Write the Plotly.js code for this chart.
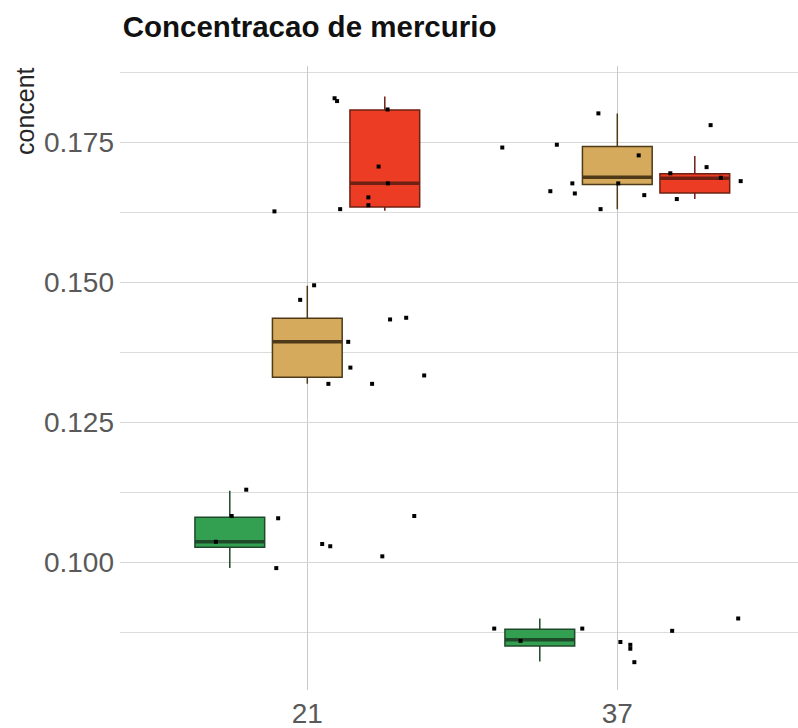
<!DOCTYPE html>
<html>
<head>
<meta charset="utf-8">
<script src="https://cdn.plot.ly/plotly-3.0.1.min.js"></script>
<style>html,body{margin:0;padding:0;background:#fff;}#chart{width:798px;height:728px;}</style>
</head>
<body>
<div id="chart"></div>
<script>
// ---- data ----
const categories = ['21', '37'];
const groupNames = ['grupo 1', 'grupo 2', 'grupo 3'];
const groupFill = ['#32a050', '#d6aa5c', '#ec3d24'];
const groupLine = ['#1f4a2a', '#4e3a18', '#6e2012'];

// box statistics per category (21, 37)
const greenLo  = [0.0990, 0.0823];
const greenQ1  = [0.1027, 0.0851];
const greenMed = [0.1037, 0.0862];
const greenQ3  = [0.1081, 0.0881];
const greenHi  = [0.1128, 0.0900];

const tanLo  = [0.1319, 0.1631];
const tanQ1  = [0.1331, 0.1675];
const tanMed = [0.1394, 0.1688];
const tanQ3  = [0.1436, 0.1743];
const tanHi  = [0.1494, 0.1802];

const redLo  = [0.1628, 0.1649];
const redQ1  = [0.1635, 0.1660];
const redMed = [0.1677, 0.1686];
const redQ3  = [0.1808, 0.1694];
const redHi  = [0.1832, 0.1726];

// jittered observations
const pointCat = [
  '21','21','21','21','21','21','21','21','21','21','21','21','21','21','21','21','21','21','21','21','21','21','21','21','21','21','21',
  '37','37','37','37','37','37','37','37','37','37','37','37','37','37','37','37','37','37','37','37','37','37','37','37','37'
];
const pointJitter = [
  -0.106,0.106,0.197,0.197,0.230,0.260,0.088,0.096,0.259,0.022,-0.023,0.267,0.319,0.132,0.139,0.068,0.209,0.377,-0.197,-0.094,-0.244,-0.295,-0.100,0.048,0.074,0.242,0.345,
  -0.371,-0.195,-0.061,-0.216,-0.145,-0.137,-0.054,0.003,0.069,0.087,0.171,0.192,0.288,0.301,0.334,0.398,-0.397,-0.312,-0.113,0.010,0.042,0.042,0.055,0.177,0.390
];
const pointY = [
  0.1627,0.1631,0.1638,0.1652,0.1707,0.1677,0.1829,0.1824,0.1809,0.1495,0.1469,0.1434,0.1437,0.1394,0.1348,0.1319,0.1319,0.1334,0.1130,0.1079,0.1083,0.1037,0.0990,0.1033,0.1029,0.1011,0.1083,
  0.1741,0.1746,0.1802,0.1663,0.1677,0.1659,0.1631,0.1677,0.1727,0.1656,0.1695,0.1649,0.1706,0.1781,0.1687,0.1681,0.0882,0.0860,0.0882,0.0858,0.0853,0.0846,0.0822,0.0878,0.0900
];

const yTickVals = [0.100, 0.125, 0.150, 0.175];
const yTickText = ['0.100', '0.125', '0.150', '0.175'];

// ---- build traces ----
const catPos = categories.map((c, i) => i + 1);
const stats = [
  [greenLo, greenQ1, greenMed, greenQ3, greenHi],
  [tanLo, tanQ1, tanMed, tanQ3, tanHi],
  [redLo, redQ1, redMed, redQ3, redHi]
];

const traces = [];
stats.forEach((s, g) => {
  traces.push({
    type: 'box', name: groupNames[g], x: catPos,
    lowerfence: s[0], q1: s[1], median: s[2], q3: s[3], upperfence: s[4],
    fillcolor: groupFill[g], line: {color: groupLine[g], width: 1.5},
    whiskerwidth: 0, boxpoints: false, showlegend: false, hoverinfo: 'skip',
    offsetgroup: 'g' + g, alignmentgroup: 'a'
  });
});
// thicker median lines (same grouping)
stats.forEach((s, g) => {
  traces.push({
    type: 'box', name: groupNames[g] + ' mediana', x: catPos,
    lowerfence: s[2], q1: s[2], median: s[2], q3: s[2], upperfence: s[2],
    fillcolor: 'rgba(0,0,0,0)', line: {color: groupLine[g], width: 3.5},
    whiskerwidth: 0, boxpoints: false, showlegend: false, hoverinfo: 'skip',
    offsetgroup: 'g' + g, alignmentgroup: 'a'
  });
});
traces.push({
  type: 'scatter', mode: 'markers',
  x: pointCat.map((c, i) => categories.indexOf(c) + 1 + pointJitter[i]),
  y: pointY,
  marker: {color: '#000', size: 4, symbol: 'square'},
  showlegend: false, hoverinfo: 'y'
});

const layout = {
  width: 798, height: 728,
  margin: {l: 120, r: 0, t: 66, b: 38},
  paper_bgcolor: '#fff', plot_bgcolor: '#fff',
  boxmode: 'group', boxgap: 0.25, boxgroupgap: 0.1,
  showlegend: false,
  title: {
    text: 'Concentracao de mercurio',
    font: {family: 'Liberation Sans, Arial, sans-serif', size: 29.5, color: '#111', weight: 'bold'},
    xref: 'paper', x: 0.004, xanchor: 'left',
    yref: 'container', y: 1 - 27 / 728, yanchor: 'middle'
  },
  xaxis: {
    range: [0.3958, 2.5829],
    tickvals: catPos, ticktext: categories,
    showgrid: true, gridcolor: '#c9c9c9', gridwidth: 1,
    zeroline: false, showline: false, ticks: '',
    ticklabelstandoff: 4,
    tickfont: {family: 'Liberation Sans, Arial, sans-serif', size: 28, color: '#595959'},
    automargin: false
  },
  yaxis: {
    range: [0.07723, 0.18866],
    tickvals: yTickVals, ticktext: yTickText,
    showgrid: true, gridcolor: '#d6d6d6', gridwidth: 1,
    minor: {dtick: 0.0125, tick0: 0.0875, showgrid: true, gridcolor: '#dcdcdc', gridwidth: 1},
    zeroline: false, showline: false, ticks: '',
    ticklabelstandoff: 5,
    tickfont: {family: 'Liberation Sans, Arial, sans-serif', size: 28, color: '#595959'},
    automargin: false
  },
  annotations: [{
    text: 'concent', textangle: -90, showarrow: false,
    xref: 'paper', yref: 'paper',
    x: (25 - 120) / 678, xanchor: 'center',
    y: (690 - 65) / 624, yanchor: 'top',
    font: {family: 'Liberation Sans, Arial, sans-serif', size: 25, color: '#262626'}
  }]
};

Plotly.newPlot('chart', traces, layout, {displayModeBar: false, staticPlot: true});
</script>
</body>
</html>
